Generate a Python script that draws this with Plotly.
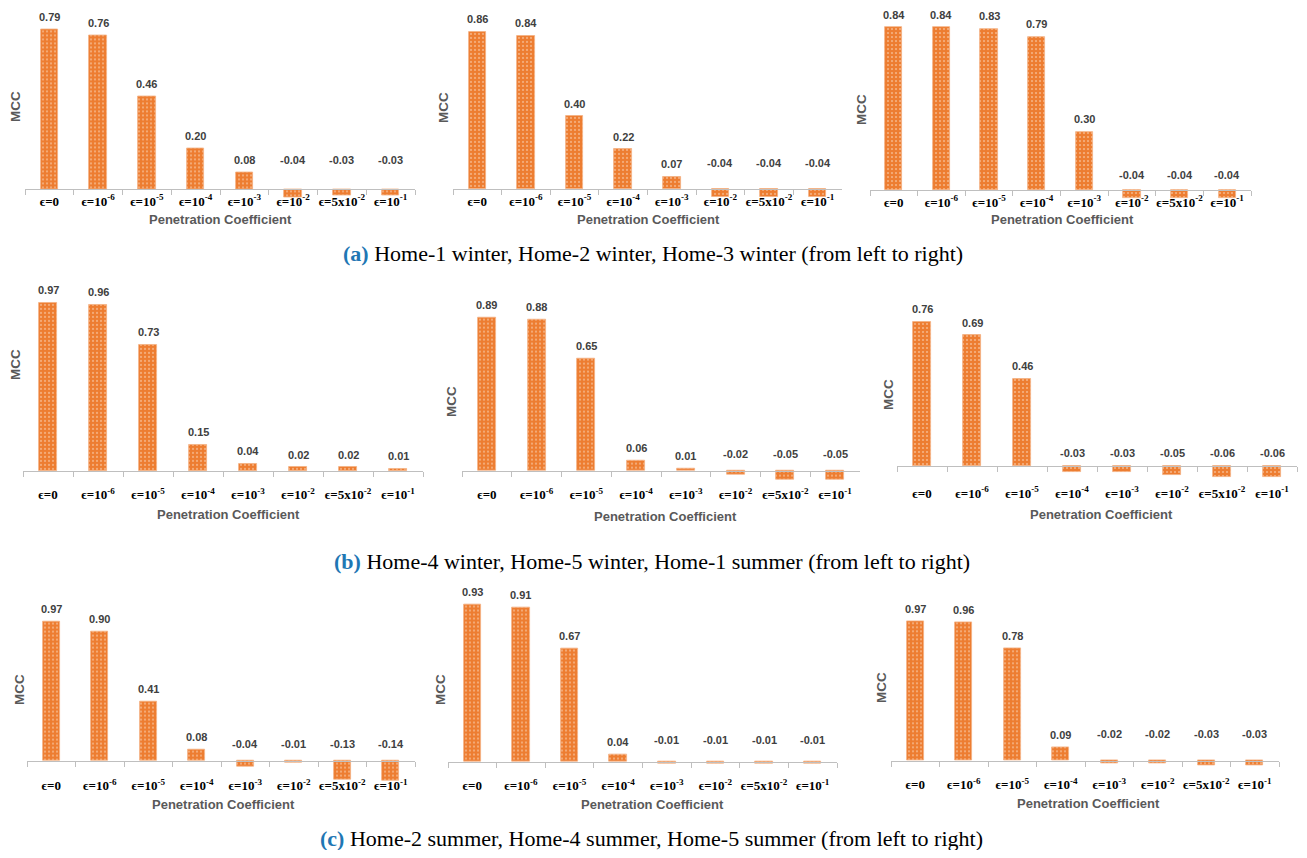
import plotly.graph_objects as go

W, H = 1307, 858
PAGE_MARGIN = 8          # default body margin of the page
FW, FH = W - 2 * PAGE_MARGIN, H - 2 * PAGE_MARGIN

# ---------------- data ----------------
CATEGORIES = ["ϵ=0", "ϵ=10<sup>-6</sup>", "ϵ=10<sup>-5</sup>", "ϵ=10<sup>-4</sup>",
              "ϵ=10<sup>-3</sup>", "ϵ=10<sup>-2</sup>", "ϵ=5x10<sup>-2</sup>", "ϵ=10<sup>-1</sup>"]

home1_winter = [0.79, 0.76, 0.46, 0.20, 0.08, -0.04, -0.03, -0.03]
home2_winter = [0.86, 0.84, 0.40, 0.22, 0.07, -0.04, -0.04, -0.04]
home3_winter = [0.84, 0.84, 0.83, 0.79, 0.30, -0.04, -0.04, -0.04]
home4_winter = [0.97, 0.96, 0.73, 0.15, 0.04, 0.02, 0.02, 0.01]
home5_winter = [0.89, 0.88, 0.65, 0.06, 0.01, -0.02, -0.05, -0.05]
home1_summer = [0.76, 0.69, 0.46, -0.03, -0.03, -0.05, -0.06, -0.06]
home2_summer = [0.97, 0.90, 0.41, 0.08, -0.04, -0.01, -0.13, -0.14]
home4_summer = [0.93, 0.91, 0.67, 0.04, -0.01, -0.01, -0.01, -0.01]
home5_summer = [0.97, 0.96, 0.78, 0.09, -0.02, -0.02, -0.03, -0.03]

SERIES = [home1_winter, home2_winter, home3_winter,
          home4_winter, home5_winter, home1_summer,
          home2_summer, home4_summer, home5_summer]

Y_TITLE = "MCC"
X_TITLE = "Penetration Coefficient"
CAPTIONS = [
    ("(a)", "Home-1 winter, Home-2 winter, Home-3 winter (from left to right)"),
    ("(b)", "Home-4 winter, Home-5 winter, Home-1 summer (from left to right)"),
    ("(c)", "Home-2 summer, Home-4 summer, Home-5 summer (from left to right)"),
]

# ---------------- layout geometry (screen pixels) ----------------
PANELS = [
    dict(x0=25, x1=415, y0=189, k=202, tick=201, title=(220, 219), mcc=(15, 107), lift=29),
    dict(x0=453, x1=842, y0=189.3, k=183, tick=201, title=(648, 219), mcc=(443, 107), lift=26),
    dict(x0=870, x1=1251, y0=190, k=194, tick=202, title=(1062, 219), mcc=(862, 110), lift=15),
    dict(x0=23, x1=423, y0=470.7, k=173, tick=495, title=(228, 514), mcc=(15, 365), lift=16),
    dict(x0=462, x1=860, y0=470.7, k=172, tick=495, title=(666, 516), mcc=(451, 402), lift=17),
    dict(x0=897, x1=1297, y0=466, k=189.5, tick=493, title=(1101, 514), mcc=(888, 395), lift=13),
    dict(x0=27, x1=415, y0=760.7, k=143.4, tick=786, title=(223, 804), mcc=(19, 690), lift=17),
    dict(x0=448, x1=837, y0=761.7, k=169, tick=786, title=(652, 804), mcc=(440, 690), lift=22),
    dict(x0=891, x1=1279, y0=760.7, k=143.7, tick=785, title=(1088, 803), mcc=(881, 688), lift=27),
]
CAPTION_POS = [(653, 254), (652, 561), (651, 838)]


def px(x):
    return (x - PAGE_MARGIN) / FW


def py(y):
    return 1 - (y - PAGE_MARGIN) / FH


ORANGE = "#ED7D31"
LABEL_COLOR = "#404040"
TITLE_COLOR = "#595959"
AXIS_COLOR = "#BFBFBF"
SANS = "Liberation Sans"
SERIF = "Liberation Serif"

fig = go.Figure()
annotations = []
layout_axes = {}

for i, (vals, p) in enumerate(zip(SERIES, PANELS), start=1):
    xa = "x" if i == 1 else f"x{i}"
    ya = "y" if i == 1 else f"y{i}"
    fig.add_trace(go.Bar(
        x=CATEGORIES, y=vals, xaxis=xa, yaxis=ya, width=0.36,
        marker=dict(color=ORANGE, line=dict(color="#F4B183", width=0.8),
                    pattern=dict(shape=".", fgcolor="#FDE9DA", size=4,
                                 solidity=0.22, fillmode="overlay")),
        hoverinfo="x+y", showlegend=False,
    ))
    vmax = max(vals)
    top_px = max(p["y0"] - vmax * p["k"] - 4, PAGE_MARGIN)
    bot_px = p["y0"] + 30
    hi = (p["y0"] - top_px) / p["k"]
    lo = -(bot_px - p["y0"]) / p["k"]
    ticklen = 5
    standoff = int(round(max(p["tick"] - p["y0"] - ticklen - 7, 0)))
    layout_axes["xaxis" if i == 1 else f"xaxis{i}"] = dict(
        type="category", categoryorder="array", categoryarray=CATEGORIES,
        range=[-0.5, 7.5], domain=[px(p["x0"]), px(p["x1"])],
        anchor="free", position=py(p["y0"]),
        showline=True, linecolor=AXIS_COLOR, linewidth=1,
        ticks="outside", tickson="boundaries", ticklen=ticklen, tickcolor=AXIS_COLOR,
        tickangle=0,
        tickfont=dict(family=SERIF, size=13, color="black", weight="bold"),
        ticklabelstandoff=standoff,
        showgrid=False, zeroline=False, fixedrange=True,
    )
    layout_axes["yaxis" if i == 1 else f"yaxis{i}"] = dict(
        domain=[py(bot_px), py(top_px)], range=[lo, hi],
        anchor=xa, visible=False, showgrid=False, zeroline=False, fixedrange=True,
    )
    for c, v in zip(CATEGORIES, vals):
        annotations.append(dict(
            xref=xa, yref=ya, x=c, y=max(v, 0), text=f"{v:.2f}",
            showarrow=False, yanchor="middle", xanchor="center",
            yshift=12.5 if v >= 0 else p["lift"],
            font=dict(family=SANS, size=11, color=LABEL_COLOR, weight="bold"),
        ))
    annotations.append(dict(
        xref="paper", yref="paper", x=px(p["title"][0]), y=py(p["title"][1]),
        text=X_TITLE, showarrow=False, xanchor="center", yanchor="middle",
        font=dict(family=SANS, size=13, color=TITLE_COLOR, weight="bold"),
    ))
    annotations.append(dict(
        xref="paper", yref="paper", x=px(p["mcc"][0]), y=py(p["mcc"][1]),
        text=Y_TITLE, showarrow=False, xanchor="center", yanchor="middle", textangle=-90,
        font=dict(family=SANS, size=13.5, color=TITLE_COLOR, weight="bold"),
    ))

for (tag, txt), (cx, cy) in zip(CAPTIONS, CAPTION_POS):
    annotations.append(dict(
        xref="paper", yref="paper", x=px(cx), y=py(cy),
        text=f"<span style='color:#1F77B4'><b>{tag}</b></span> {txt}",
        showarrow=False, xanchor="center", yanchor="middle",
        font=dict(family=SERIF, size=22, color="black"),
    ))

fig.update_layout(
    width=FW, height=FH, margin=dict(l=0, r=0, t=0, b=0),
    paper_bgcolor="white", plot_bgcolor="white",
    showlegend=False, annotations=annotations, bargap=0,
    **layout_axes,
)

fig.write_html("out.html")
